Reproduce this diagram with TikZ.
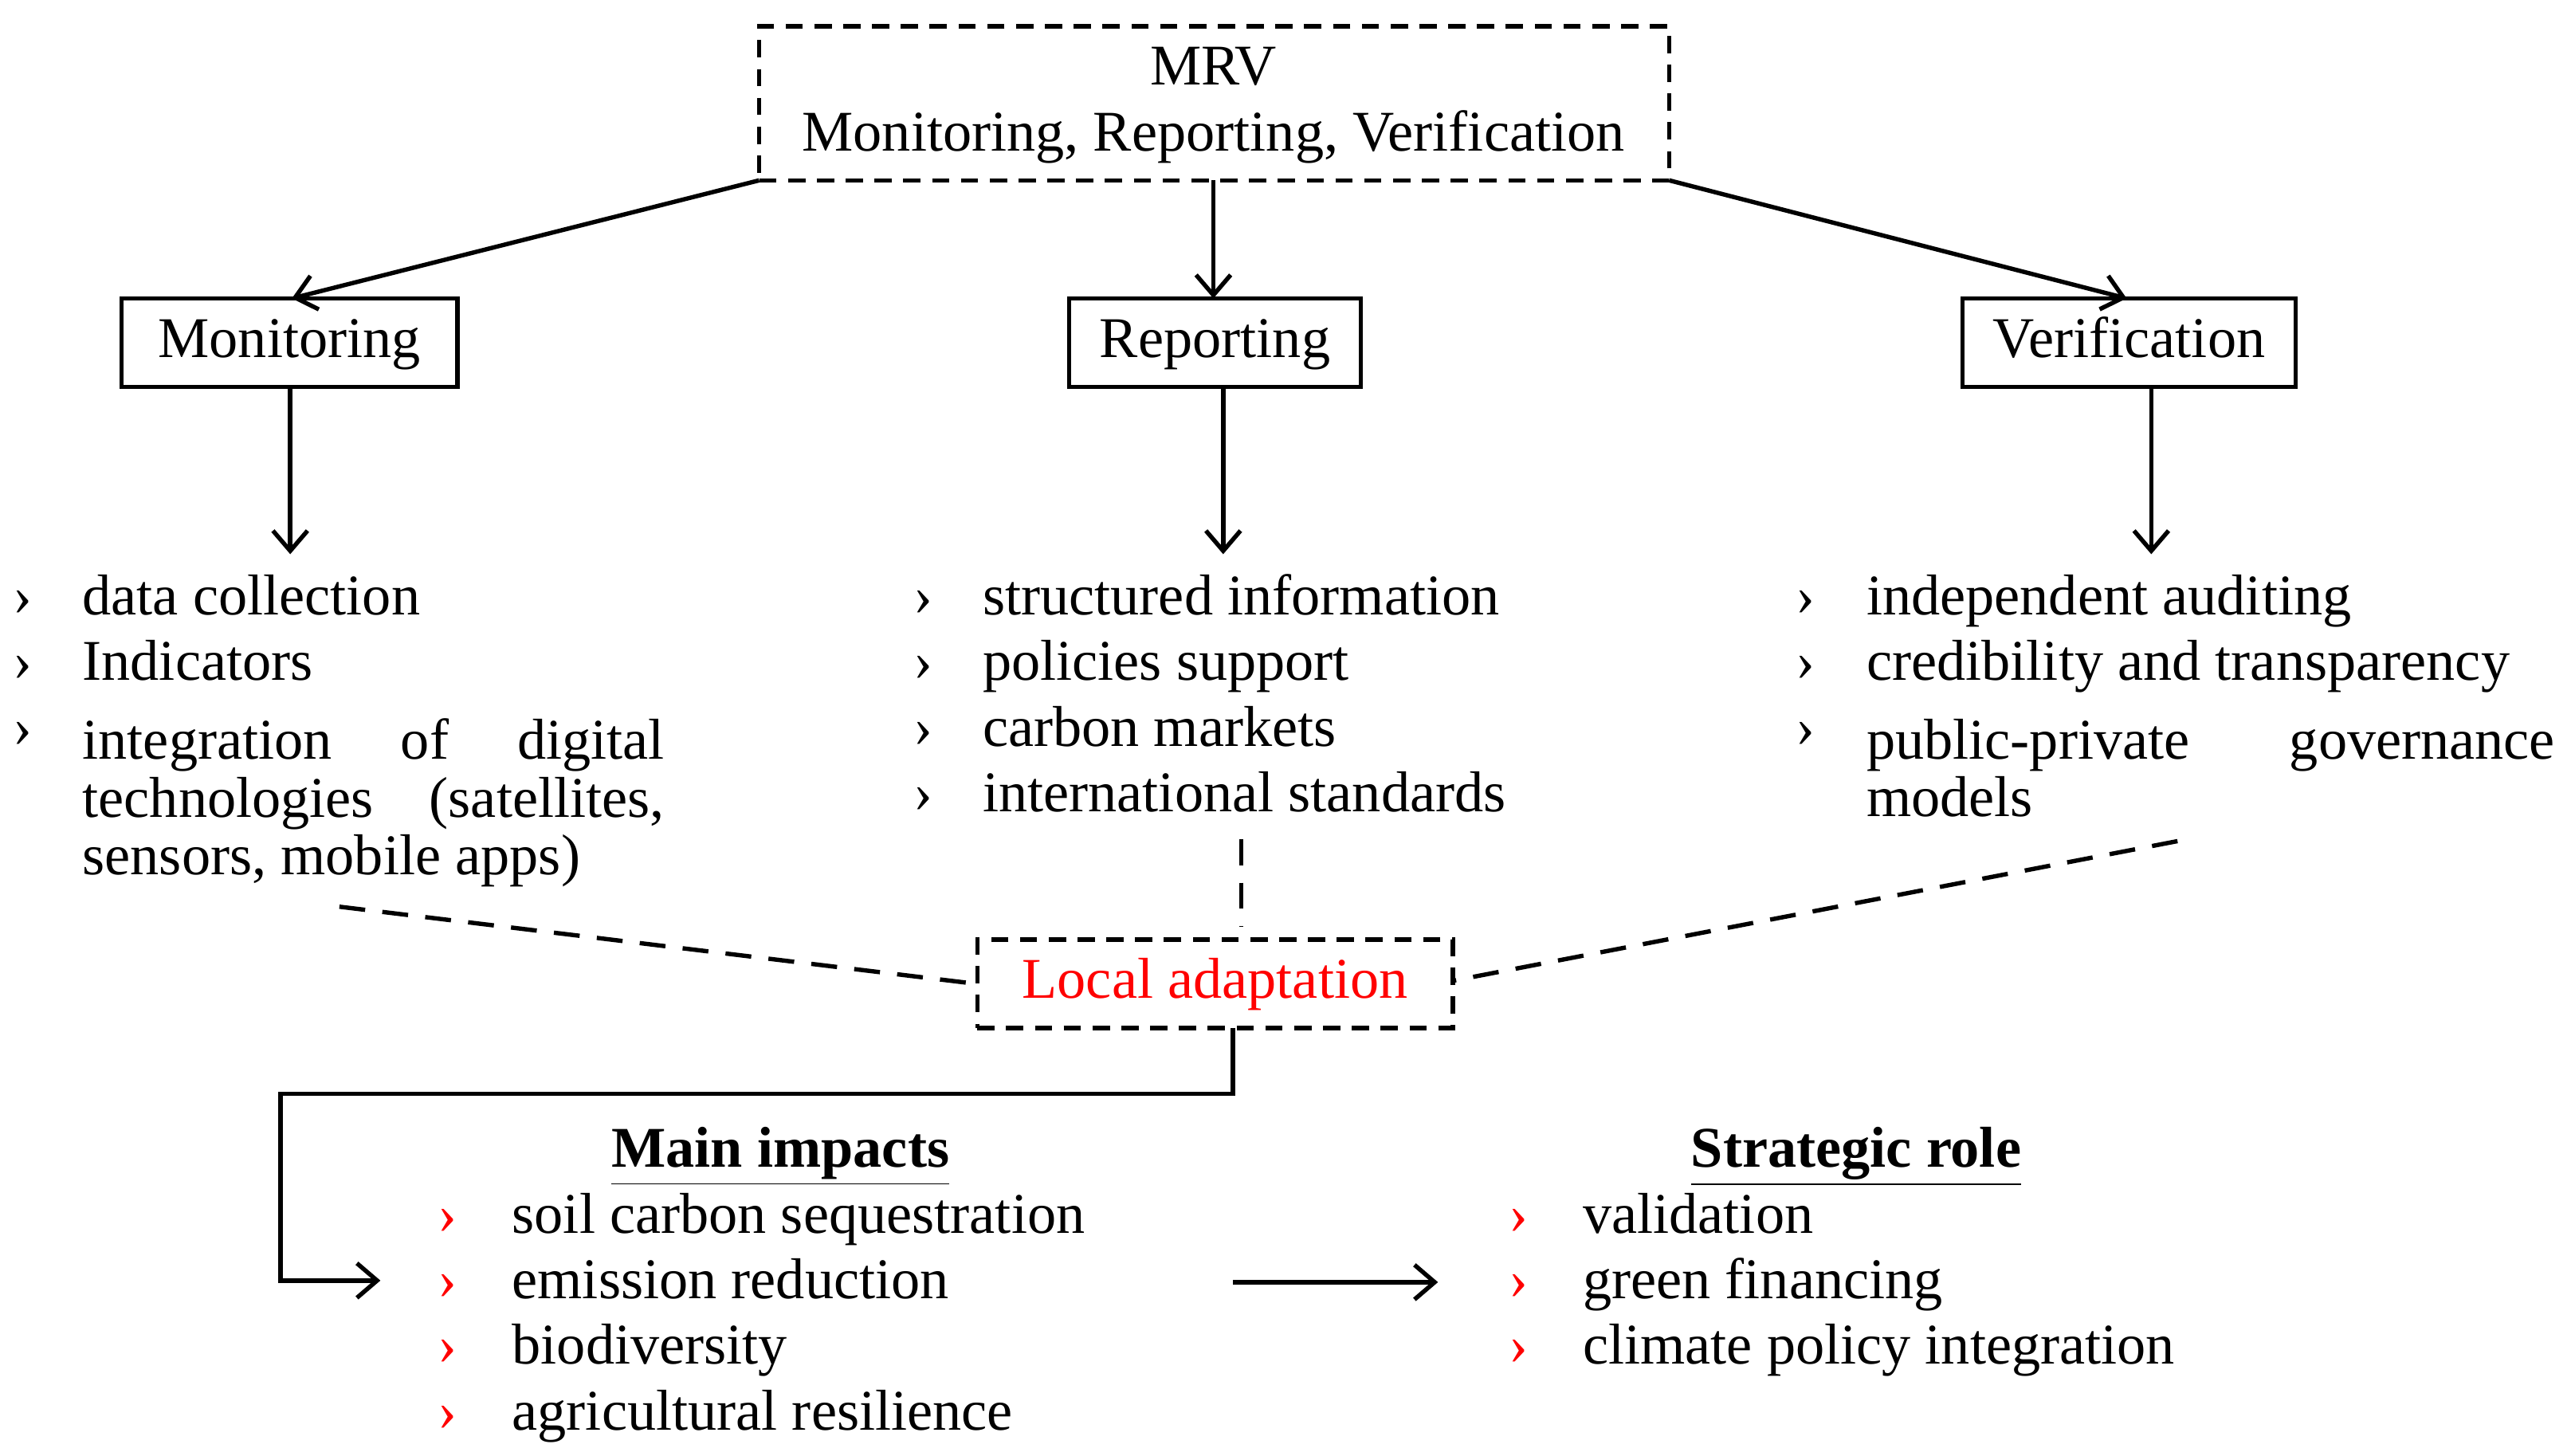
\documentclass[tikz,border=0pt]{standalone}
\usepackage{fontspec}
\setmainfont{Liberation Serif}
\usetikzlibrary{arrows.meta}
\hyphenpenalty=10000
\exhyphenpenalty=10000
\begin{document}
\begin{tikzpicture}[x=0.02cm,y=-0.02cm,
  every node/.style={font={\fontsize{20}{20}\selectfont}, inner sep=0pt},
  box/.style={draw, line width=1.5pt, minimum height=1.08cm, anchor=center, text height=14pt, text depth=4pt},
  dbox/.style={box, dash pattern=on 6pt off 4pt},
  arr/.style={-{Straight Barb[length=7pt,width=12pt]}, line width=1.5pt},
  dl/.style={line width=1.5pt, dash pattern=on 9pt off 6pt},
  bul/.style={anchor=base},
  it/.style={anchor=base west},
  red/.style={text=red}]
\useasboundingbox (0,0) rectangle (1568,888);
\node[dbox, minimum width=11.1cm, minimum height=1.88cm] (mrv) at (740.5,63) {};
\node[anchor=base] (mrvt) at (740,52) {MRV};
\node[anchor=base] (mrvt2) at (740,92) {Monitoring, Reporting, Verification};
\node[box, minimum width=4.1cm] (mon) at (176.5,209) {Monitoring};
\node[box, minimum width=3.56cm] (rep) at (741,209) {Reporting};
\node[box, minimum width=4.06cm] (ver) at (1298.5,209) {Verification};
\coordinate (m1) at (463,110); \coordinate (m2) at (740,110); \coordinate (m3) at (1018,110);
\coordinate (t1) at (178,182); \coordinate (t2) at (740,182); \coordinate (t3) at (1297,182);
\draw[arr] (m1) -- (t1); \draw[arr] (m2) -- (t2); \draw[arr] (m3) -- (t3);
\coordinate (a1) at (177,236); \coordinate (b1) at (177,338);
\coordinate (a2) at (746,236); \coordinate (b2) at (746,338);
\coordinate (a3) at (1312,236); \coordinate (b3) at (1312,338);
\draw[arr] (a1) -- (b1); \draw[arr] (a2) -- (b2); \draw[arr] (a3) -- (b3);
% Monitoring list
\foreach \y in {375,415,455} \node[bul] at (14,\y) {›};
\node[it] at (50,375) {data collection};
\node[it] at (50,415) {Indicators};
\node[anchor=north west, text width=7.1cm, align=justify] (mtx) at (50,438) {integration of digital technologies (satellites, sensors, mobile apps)};
% Reporting list
\foreach \y/\t in {375/structured information,415/policies support,455/carbon markets,495/international standards}
  {\node[bul] at (563,\y) {›}; \node[it] at (599,\y) {\t};}
% Verification list
\foreach \y in {375,415,455} \node[bul] at (1101,\y) {›};
\node[it] at (1138,375) {independent auditing};
\node[it] at (1138,415) {credibility and transparency};
\node[anchor=north west, text width=8.4cm, align=justify] (vtx) at (1138,438) {public-private governance models};
% local adaptation
\node[dbox, minimum width=5.8cm, red] (loc) at (741,600) {Local adaptation};
\coordinate (d1) at (757,512); \coordinate (d2) at (757,565);
\coordinate (d3) at (207,553); \coordinate (d4) at (595,600);
\coordinate (d5) at (1328,513); \coordinate (d6) at (887,598);
\draw[dl] (d1) -- (d2); \draw[dl] (d3) -- (d4); \draw[dl] (d5) -- (d6);
\coordinate (c0) at (752,627); \coordinate (c3) at (232,781);
\draw[arr] (c0) |- (171,667) |- (c3);
% main impacts
\node[anchor=base] (mi) at (476,712) {\textbf{\underline{Main impacts}}};
\foreach \y/\t in {752/soil carbon sequestration,792/emission reduction,832/biodiversity,872/agricultural resilience}
  {\node[bul, red] at (273,\y) {›}; \node[it] at (312,\y) {\t};}
\coordinate (e1) at (752,782); \coordinate (e2) at (877,782);
\draw[arr] (e1) -- (e2);
\node[anchor=base] (sr) at (1132,712) {\textbf{\underline{Strategic role}}};
\foreach \y/\t in {752/validation,792/green financing,832/climate policy integration}
  {\node[bul, red] at (926,\y) {›}; \node[it] at (965,\y) {\t};}
\end{tikzpicture}
\end{document}
